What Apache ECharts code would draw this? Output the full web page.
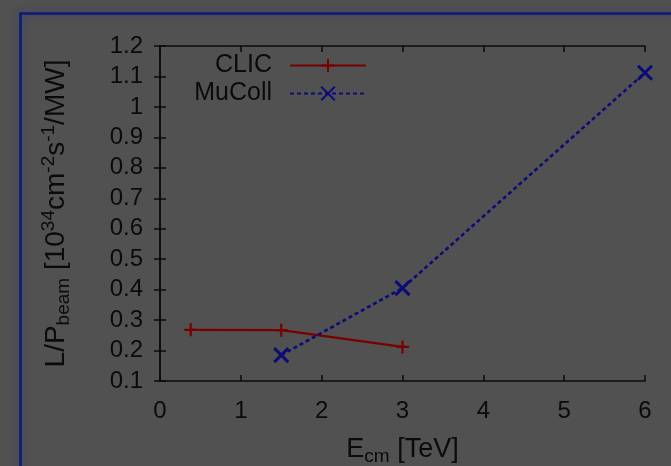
<!DOCTYPE html>
<html>
<head>
<meta charset="utf-8">
<script src="https://cdn.jsdelivr.net/npm/echarts@6/dist/echarts.min.js"></script>
<style>
  html, body { margin: 0; padding: 0; background: #515151; }
  #chart { width: 671px; height: 466px; }
</style>
</head>
<body>
<div id="chart"></div>
<script>
// Luminosity per beam power versus centre-of-mass energy
const clicEnergy = [0.38, 1.5, 3.0];
const clicLumi = [0.268, 0.267, 0.212];
const mucollEnergy = [1.5, 3.0, 6.0];
const mucollLumi = [0.185, 0.405, 1.112];
const seriesNames = ['CLIC', 'MuColl'];

const FONT = '"Liberation Sans", Arial, sans-serif';
const INK = '#0b0b0b';
const RED = '#7a0000';
const NAVY = '#0c0c78';

const plusPath = 'path://M0,6H12M6,0V12';
const crossPath = 'path://M0,0L12,12M12,0L0,12';

function pairs(xs, ys) { return xs.map((x, i) => [x, ys[i]]); }

const chart = echarts.init(document.getElementById('chart'));

const tickStyle = { inside: true, length: 6, lineStyle: { color: INK, width: 1.5 } };
const lineStyleAxis = { show: true, lineStyle: { color: INK, width: 1.5 } };

chart.setOption({
  backgroundColor: '#515151',
  animation: false,
  graphic: [{
    type: 'rect',
    shape: { x: 20.5, y: 13.5, width: 700, height: 500 },
    style: { fill: 'none', stroke: '#0e1a72', lineWidth: 2.5,
             shadowBlur: 8, shadowColor: 'rgba(30,45,170,0.5)' },
    silent: true, z: -1
  }],
  grid: { left: 160, right: 26, top: 46, bottom: 85, containLabel: false, outerBoundsMode: 'none' },
  legend: {
    orient: 'vertical',
    align: 'right',
    right: 299,
    top: 48,
    itemWidth: 76,
    itemHeight: 17,
    itemGap: 3,
    data: seriesNames,
    textStyle: { color: INK, fontFamily: FONT, fontSize: 25, padding: [0, 13, 0, 0] }
  },
  xAxis: [{
    type: 'value', min: 0, max: 6, interval: 1,
    name: 'E{sub|cm} [TeV]',
    nameLocation: 'middle', nameGap: 53,
    nameTextStyle: {
      color: INK, fontFamily: FONT, fontSize: 27,
      rich: { sub: { fontSize: 19, verticalAlign: 'bottom', fontFamily: FONT, color: INK, padding: [13, 0, 0, 0] } }
    },
    axisLine: lineStyleAxis, axisTick: tickStyle, splitLine: { show: false },
    axisLabel: { color: INK, fontFamily: FONT, fontSize: 24, margin: 18 }
  }, {
    type: 'value', min: 0, max: 6, interval: 1, position: 'top',
    axisLine: lineStyleAxis, axisTick: tickStyle, splitLine: { show: false },
    axisLabel: { show: false }
  }],
  yAxis: [{
    type: 'value', min: 0.1, max: 1.2, interval: 0.1,
    name: 'L/P{sub|beam} [10{sup|34}cm{sup|-2}s{sup|-1}/MW]',
    nameLocation: 'middle', nameGap: 87, nameRotate: 90,
    nameTextStyle: {
      color: INK, fontFamily: FONT, fontSize: 28, lineHeight: 34,
      rich: {
        sub: { fontSize: 19, verticalAlign: 'bottom', fontFamily: FONT, color: INK, lineHeight: 34, padding: [14, 0, 0, 0] },
        sup: { fontSize: 19, verticalAlign: 'top', fontFamily: FONT, color: INK, lineHeight: 34, padding: [0, 0, 14, 0] }
      }
    },
    axisLine: lineStyleAxis, axisTick: tickStyle, splitLine: { show: false },
    axisLabel: {
      color: INK, fontFamily: FONT, fontSize: 24, margin: 17,
      formatter: v => String(parseFloat(v.toFixed(1)))
    }
  }, {
    type: 'value', min: 0.1, max: 1.2, interval: 0.1, position: 'right',
    axisLine: lineStyleAxis, axisTick: tickStyle, splitLine: { show: false },
    axisLabel: { show: false }
  }],
  series: [{
    name: seriesNames[0],
    type: 'line',
    xAxisIndex: 0, yAxisIndex: 0,
    data: pairs(clicEnergy, clicLumi),
    symbol: plusPath, symbolSize: 13,
    lineStyle: { color: RED, width: 2.2 },
    itemStyle: { color: 'rgba(0,0,0,0)', borderColor: RED, borderWidth: 2.2 }
  }, {
    name: seriesNames[1],
    type: 'line',
    xAxisIndex: 0, yAxisIndex: 0,
    data: pairs(mucollEnergy, mucollLumi),
    symbol: crossPath, symbolSize: 14,
    lineStyle: { color: NAVY, width: 2.6, type: [4, 3] },
    itemStyle: { color: 'rgba(0,0,0,0)', borderColor: NAVY, borderWidth: 3 }
  }]
});
</script>
</body>
</html>
